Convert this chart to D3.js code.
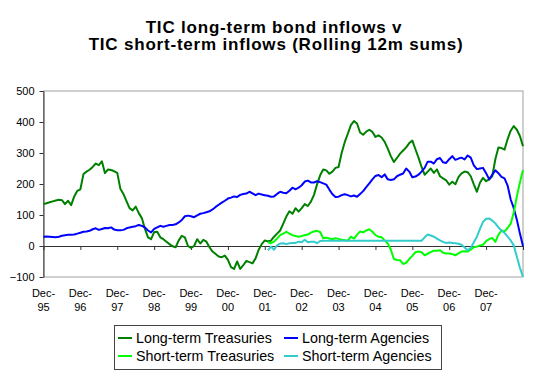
<!DOCTYPE html>
<html>
<head>
<meta charset="utf-8">
<script src="https://cdnjs.cloudflare.com/ajax/libs/d3/7.8.5/d3.min.js"></script>
<style>
body { margin: 0; background: #fff; }
svg { display: block; font-family: 'Liberation Sans', Arial, sans-serif; }
</style>
</head>
<body>
<div id="chart"></div>
<script>
// monthly rolling 12m sums, first value = Dec-95
var ltTreasuries = [
    135, 138, 141, 144, 147, 149, 148, 135, 146, 132,
    160, 178, 183, 232, 240, 246, 255, 266, 261, 273,
    235, 247, 245, 241, 236, 185, 168, 145, 122, 115,
    127, 106, 90, 55, 28, 22, 45, 46, 28, 22,
    14, 6, -1, -4, 18, 33, 28, 0, -6, 0,
    22, 8, 20, 14, -4, -18, -26, -34, -36, -31,
    -45, -68, -74, -50, -74, -62, -48, -52, -56, -40,
    -12, 6, 18, 15, 17, 30, 40, 50, 72, 95,
    112, 104, 122, 111, 122, 135, 129, 143, 165, 199,
    228, 247, 244, 233, 240, 252, 255, 300, 335, 362,
    390, 403, 395, 366, 359, 369, 375, 368, 352, 357,
    350, 336, 314, 290, 271, 284, 298, 308, 318, 332,
    340, 312, 285, 255, 230, 240, 250, 236, 247, 225,
    218, 212, 198, 207, 199, 222, 234, 240, 238, 225,
    199, 175, 204, 220, 209, 215, 225, 280, 318, 316,
    311, 345, 372, 387, 375, 355, 322
];
var ltAgencies = [
    30, 31, 30, 29, 28, 30, 33, 35, 36, 36,
    37, 40, 43, 46, 47, 49, 54, 57, 52, 55,
    58, 57, 60, 53, 51, 51, 52, 57, 60, 62,
    64, 68, 65, 60, 50, 44, 55, 60, 65, 62,
    65, 68, 68, 70, 76, 84, 96, 98, 96, 93,
    99, 104, 106, 109, 112, 118, 126, 133, 140, 146,
    153, 156, 160, 158, 165, 168, 169, 175, 170, 164,
    169, 166, 164, 162, 159, 160, 168, 175, 172, 170,
    178, 188, 183, 188, 196, 208, 211, 205, 205, 209,
    206, 202, 198, 182, 167, 158, 159, 164, 167, 164,
    160, 163, 159, 168, 177, 190, 202, 215, 226, 229,
    222, 231, 215, 213, 215, 225, 230, 234, 250, 240,
    222, 224, 230, 240, 252, 272, 272, 266, 280, 284,
    270, 268, 280, 290, 278, 282, 285, 279, 292, 285,
    260, 248, 250, 252, 235, 215, 230, 244, 235, 223,
    218, 195, 150, 122, 85, 40, 0
];

// short-term series start in Jan-02 (month 73)
var shortStart = 73;
var stTreasuries = [
    12, 9, 14, 24, 35, 40, 46,
    40, 35, 32, 30, 32, 35, 37, 43, 47, 49,
    45, 25, 27, 24, 22, 25, 23, 20, 19, 17,
    30, 24, 36, 47, 44, 50, 54, 46, 35, 30,
    28, 18, 8, -12, -42, -45, -46, -58, -54, -42,
    -32, -20, -18, -20, -30, -25, -20, -15, -15, -14,
    -22, -24, -24, -26, -30, -24, -18, -17, -18, -12,
    -4, -2, 2, 4, 16, 22, 26, 13, 36, 50,
    47, 58, 72, 108, 160, 205, 245
];
var stAgencies = [
    -14, -2, -12, 2, 8, 9, 6,
    9, 10, 10, 14, 12, 20, 12, 14, 14, 9,
    16, 17, 17, 17, 17, 17, 17, 17, 17, 17,
    17, 17, 17, 17, 17, 17, 17, 17, 17, 17,
    17, 17, 17, 17, 17, 17, 17, 17, 17, 17,
    17, 17, 17, 17, 28, 37, 34, 30, 24, 18,
    13, 10, 11, 10, 9, 7, 4, -5, -14, -6,
    12, 30, 55, 78, 88, 89, 82, 73, 60, 50,
    42, 30, 18, 2, -35, -70, -100
];

var tickYears = ['95', '96', '97', '98', '99', '00', '01', '02', '03', '04', '05', '06', '07'];
var yTicks = [-100, 0, 100, 200, 300, 400, 500];

var series = [
    {name: 'Long-term Treasuries', values: ltTreasuries, start: 0, color: '#008000'},
    {name: 'Long-term Agencies', values: ltAgencies, start: 0, color: '#0000ff'},
    {name: 'Short-term Treasuries', values: stTreasuries, start: shortStart, color: '#00ff00'},
    {name: 'Short-term Agencies', values: stAgencies, start: shortStart, color: '#33cccc'}
];

var w = 547;
var h = 374;
var plotL = 43.5, plotR = 523, plotT = 91, plotB = 277;

var svg = d3.select('#chart')
            .append('svg')
            .attr('width', w)
            .attr('height', h);

var xscale = d3.scaleLinear()
                .domain([0, ltTreasuries.length - 1])
                .range([plotL, plotR]);

var yscale = d3.scaleLinear()
                .domain([-100, 500])
                .range([plotB, plotT]);

// title
svg.append('text')
    .attr('x', 274).attr('y', 32.5)
    .attr('text-anchor', 'middle')
    .style('font-size', '17px').style('font-weight', 'bold')
    .style('letter-spacing', '0.8px')
    .text('TIC long-term bond inflows v');
svg.append('text')
    .attr('x', 276).attr('y', 50)
    .attr('text-anchor', 'middle')
    .style('font-size', '17px').style('font-weight', 'bold')
    .style('letter-spacing', '0.8px')
    .text('TIC short-term inflows (Rolling 12m sums)');

// plot area border
svg.append('rect')
    .attr('x', plotL).attr('y', plotT)
    .attr('width', plotR - plotL).attr('height', plotB - plotT)
    .attr('fill', 'none')
    .attr('stroke', '#a0a0a0');

var yaxis = d3.axisLeft(yscale).tickValues(yTicks).tickSize(4).tickPadding(5).tickSizeOuter(0);
var gy = svg.append('g')
    .attr('transform', 'translate(' + plotL + ',0)')
    .call(yaxis);
gy.selectAll('path, line').attr('stroke', '#333');
gy.selectAll('text')
    .attr('font-family', "'Liberation Sans', Arial, sans-serif")
    .style('font-size', '11px').attr('fill', '#000');

var xticks = d3.range(0, ltTreasuries.length, 12);
var xaxis = d3.axisBottom(xscale).tickValues(xticks).tickSize(4).tickSizeOuter(0).tickFormat('');
var gx = svg.append('g')
    .attr('transform', 'translate(0,' + yscale(0) + ')')
    .call(xaxis);
gx.selectAll('path, line').attr('stroke', '#333');

// category labels under the plot
var lbl = svg.selectAll('text.xlab')
    .data(tickYears)
    .enter()
    .append('text')
    .attr('class', 'xlab')
    .attr('text-anchor', 'middle')
    .style('font-size', '11px');
lbl.append('tspan')
    .attr('x', function(d, i) { return xscale(i * 12); })
    .attr('y', 297)
    .text('Dec-');
lbl.append('tspan')
    .attr('x', function(d, i) { return xscale(i * 12); })
    .attr('y', 311)
    .text(function(d) { return d; });

var line = d3.line()
    .x(function(d) { return xscale(d.m); })
    .y(function(d) { return yscale(d.v); });

series.forEach(function(s) {
    var pts = s.values.map(function(v, i) { return {m: i + s.start, v: v}; });
    svg.append('path')
        .datum(pts)
        .attr('d', line)
        .attr('fill', 'none')
        .attr('stroke', s.color)
        .attr('stroke-width', 2)
        .attr('stroke-linejoin', 'round');
});

// legend
var lg = svg.append('g');
lg.append('rect')
    .attr('x', 114.5).attr('y', 325.5)
    .attr('width', 327).attr('height', 44)
    .attr('fill', '#fff')
    .attr('stroke', '#444');

var item = lg.selectAll('g.item')
    .data(series)
    .enter()
    .append('g')
    .attr('class', 'item')
    .attr('transform', function(d, i) {
        return 'translate(' + (i % 2 ? 284 : 118) + ',' + (i < 2 ? 338 : 356) + ')';
    });
item.append('line')
    .attr('x1', 0).attr('x2', 14)
    .attr('stroke', function(d) { return d.color; })
    .attr('stroke-width', 2);
item.append('text')
    .attr('x', 18).attr('dy', '0.36em')
    .style('font-size', '14.3px')
    .text(function(d) { return d.name; });
</script>
</body>
</html>
